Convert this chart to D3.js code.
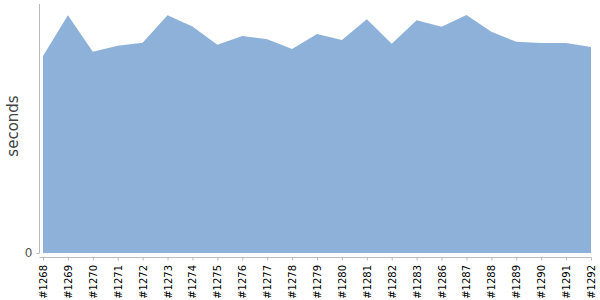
<!DOCTYPE html>
<html><head><meta charset="utf-8">
<script src="https://cdn.jsdelivr.net/npm/d3@7"></script>
<style>body{margin:0;background:#fff}</style>
</head><body>
<svg id="c" width="600" height="300"></svg>
<script>
const builds = ["#1268","#1269","#1270","#1271","#1272","#1273","#1274","#1275","#1276","#1277","#1278","#1279","#1280","#1281","#1282","#1283","#1286","#1287","#1288","#1289","#1290","#1291","#1292"];
const seconds = [197,237.7,201.3,207.3,210.3,237.7,226.5,208.3,217,213.7,204,219,213,233.7,209.3,232.7,226.3,238,221.3,211.3,210,210,206];
const yTicks = [0];

const svg = d3.select("#c");
const x = d3.scalePoint().domain(builds).range([43, 591]);
const y = d3.scaleLinear().domain([0, 249]).range([253, 4]);

const data = builds.map((b, i) => ({b, v: seconds[i]}));
svg.append("path").datum(data)
  .attr("fill", "#8EB1DA")
  .attr("d", d3.area().x(d => x(d.b)).y0(y(0)).y1(d => y(d.v)));

// y axis
svg.append("line").attr("x1", 39.5).attr("x2", 39.5).attr("y1", 4).attr("y2", 253)
  .attr("stroke", "#bbb");
const ya = svg.append("g").attr("transform", "translate(39.5,0)")
  .call(d3.axisLeft(y).tickValues(yTicks).tickSize(3).tickPadding(4));
ya.select(".domain").remove();
ya.selectAll("line").attr("stroke", "#bbb");
ya.selectAll("text").attr("fill", "#555").attr("font-family", "DejaVu Sans, sans-serif").attr("font-size", 12);

// x axis
const xa = svg.append("g").attr("transform", "translate(0,257.5)")
  .call(d3.axisBottom(x).tickSizeInner(3).tickSizeOuter(0).tickPadding(5));
xa.select(".domain").attr("stroke", "#bbb").attr("d", "M39.5,0H591.5");
xa.selectAll("line").attr("stroke", "#bbb");
xa.selectAll("text")
  .attr("font-family", "DejaVu Sans, sans-serif").attr("font-size", 10).attr("fill", "#000")
  .attr("transform", "rotate(-90)")
  .attr("text-anchor", "end").attr("dy", "0.35em").attr("x", -7.5).attr("y", 0);

svg.append("text").attr("transform", "translate(18,126) rotate(-90)")
  .attr("text-anchor", "middle").attr("font-family", "DejaVu Sans, sans-serif")
  .attr("font-size", 15).attr("fill", "#444").text("seconds");
</script>
</body></html>
